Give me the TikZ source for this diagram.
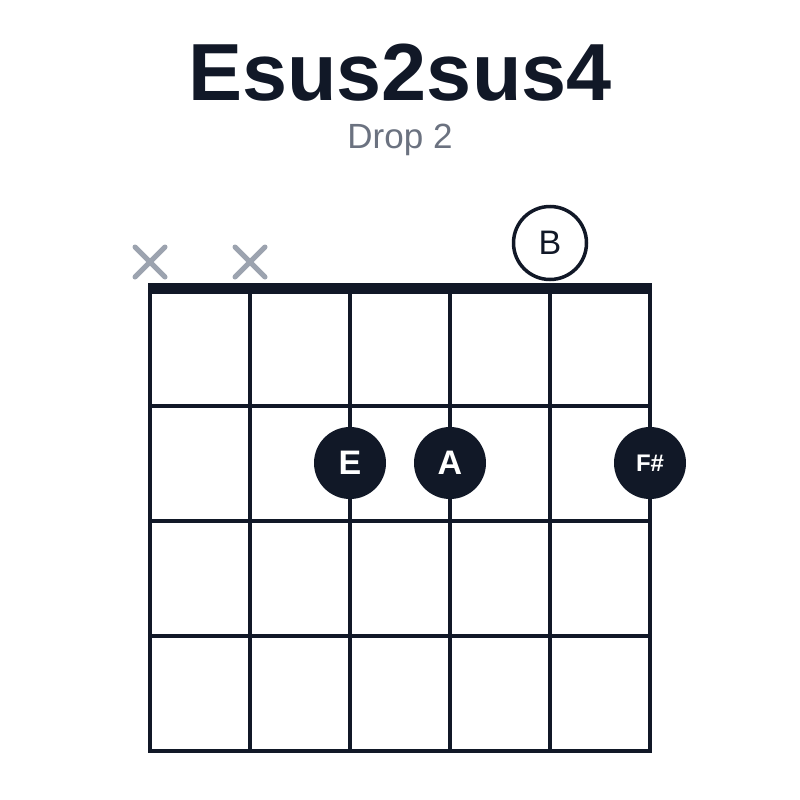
\documentclass[tikz,border=0pt]{standalone}
\usepackage{fontspec}
\setmainfont{Liberation Sans}
\definecolor{ink}{HTML}{111827}
\definecolor{subgray}{HTML}{6B7280}
\definecolor{mutegray}{HTML}{9CA3AF}
\tikzset{
  gridline/.style={draw=ink, line width=3.5pt},
  nutline/.style={draw=ink, line width=11pt},
  mutemark/.style={draw=mutegray, line width=5pt, line cap=round},
  fingerdot/.style={circle, fill=ink, minimum size=72pt, inner sep=0pt, text=white, font=\fontsize{34}{36}\selectfont\bfseries},
  opendot/.style={circle, draw=ink, line width=3.5pt, fill=white, minimum size=73pt, inner sep=0pt, text=ink, font=\fontsize{34}{36}\selectfont},
}
\begin{document}
\begin{tikzpicture}[x=1pt,y=-1pt]
\useasboundingbox (0,0) rectangle (800,800);
\fill[white] (0,0) rectangle (800,800);
% title
\node[anchor=base, text=ink, font=\fontsize{81}{90}\selectfont\bfseries, inner sep=0pt] (title) at (400,100) {Esus2sus4};
\node[anchor=base, text=subgray, font=\fontsize{35}{40}\selectfont, inner sep=0pt] (subtitle) at (400,148) {Drop 2};
% strings
\foreach \x in {150,250,350,450,550,650} {
  \draw[gridline] (\x,288) -- (\x,752);
}
% frets
\foreach \y in {406,521,636,751} {
  \draw[gridline] (148.25,\y) -- (651.75,\y);
}
% nut
\draw[nutline] (148.25,288.5) -- (651.75,288.5);
% muted strings
\foreach \x/\n in {150/muteA,250/muteB} {
  \coordinate (\n) at (\x,262);
  \draw[mutemark] ([shift={(-15,-15)}]\n) -- ([shift={(15,15)}]\n);
  \draw[mutemark] ([shift={(-15,15)}]\n) -- ([shift={(15,-15)}]\n);
}
% open string
\node[opendot] (openB) at (550,243) {B};
% fretted notes
\node[fingerdot] (dotE) at (350,463) {E};
\node[fingerdot] (dotA) at (450,463) {A};
\node[fingerdot, font=\fontsize{24}{26}\selectfont\bfseries] (dotFs) at (650,463) {F\#};
\end{tikzpicture}
\end{document}
